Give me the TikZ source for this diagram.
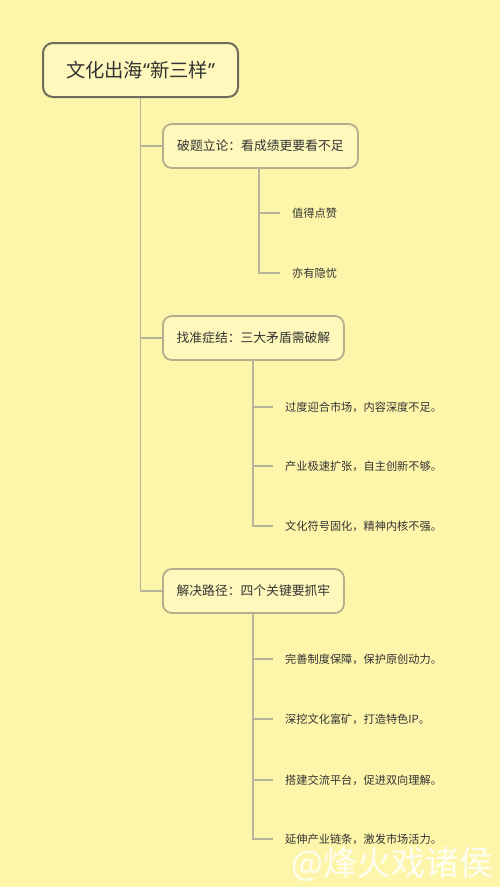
\documentclass[tikz,border=0pt]{standalone}
\usepackage{fontspec}
\newfontfamily\cjk{Noto Sans CJK SC}
\newfontfamily\latinq{Noto Sans}
\definecolor{bg}{HTML}{FDF5AA}
\definecolor{boxfill}{HTML}{FEF8BC}
\definecolor{rootline}{HTML}{6E6C5E}
\definecolor{boxline}{HTML}{B3AE8C}
\definecolor{conn}{HTML}{B8B49A}
\definecolor{txt}{HTML}{333333}
\tikzset{
  rootbox/.style={draw=rootline, line width=2pt, fill=boxfill, rounded corners=10pt, minimum width=195pt, minimum height=54pt, font=\cjk\fontsize{19.3}{21}\selectfont, text=txt, inner sep=0pt},
  topic/.style={draw=boxline, line width=1.8pt, fill=boxfill, rounded corners=9pt, minimum height=44pt, font=\cjk\fontsize{12.8}{14}\selectfont, text=txt, inner sep=0pt, anchor=west},
  leaf/.style={font=\cjk\fontsize{11.2}{12}\selectfont, text=txt, anchor=west, inner sep=0pt},
  link/.style={draw=conn, line width=1.8pt},
}
\begin{document}
\begin{tikzpicture}[x=1pt,y=-1pt]
\fill[bg] (0,0) rectangle (500,887);
\useasboundingbox (0,0) rectangle (500,887);
% root
\node[rootbox] (root) at (140.5,70) {文化出海{\latinq“}新三样{\latinq”}};
% topics
\node[topic, minimum width=195pt] (t1) at (162,146) {破题立论：看成绩更要看不足};
\node[topic, minimum width=181pt] (t2) at (162,338) {找准症结：三大矛盾需破解};
\node[topic, minimum width=181pt] (t3) at (162,591) {解决路径：四个关键要抓牢};
% trunk
\draw[link] (root.south) |- (t3.west);
\draw[link] (t1.west -| root.south) -- (t1.west);
\draw[link] (t2.west -| root.south) -- (t2.west);
% leaves of t1
\node[leaf] (a1) at (292,213) {值得点赞};
\node[leaf] (a2) at (292,273) {亦有隐忧};
\coordinate (s1) at (259,167);
\draw[link] (s1) |- ([xshift=-12pt]a2.west);
\draw[link] (s1 |- a1.west) -- ([xshift=-12pt]a1.west);
% leaves of t2
\node[leaf] (b1) at (285,407) {过度迎合市场，内容深度不足。};
\node[leaf] (b2) at (285,466) {产业极速扩张，自主创新不够。};
\node[leaf] (b3) at (285,526) {文化符号固化，精神内核不强。};
\coordinate (s2) at (253,360);
\draw[link] (s2) |- ([xshift=-12pt]b3.west);
\draw[link] (s2 |- b1.west) -- ([xshift=-12pt]b1.west);
\draw[link] (s2 |- b2.west) -- ([xshift=-12pt]b2.west);
% leaves of t3
\node[leaf] (c1) at (285,659) {完善制度保障，保护原创动力。};
\node[leaf] (c2) at (285,719) {深挖文化富矿，打造特色IP。};
\node[leaf] (c3) at (285,780) {搭建交流平台，促进双向理解。};
\node[leaf] (c4) at (285,839) {延伸产业链条，激发市场活力。};
\coordinate (s3) at (253,613);
\draw[link] (s3) |- ([xshift=-12pt]c4.west);
\draw[link] (s3 |- c1.west) -- ([xshift=-12pt]c1.west);
\draw[link] (s3 |- c2.west) -- ([xshift=-12pt]c2.west);
\draw[link] (s3 |- c3.west) -- ([xshift=-12pt]c3.west);
% watermark
\node[font=\cjk\fontsize{34}{36}\selectfont, text=white, opacity=0.85, anchor=east, inner sep=0pt] (wm) at (494,864) {@烽火戏诸侯};
\end{tikzpicture}
\end{document}
